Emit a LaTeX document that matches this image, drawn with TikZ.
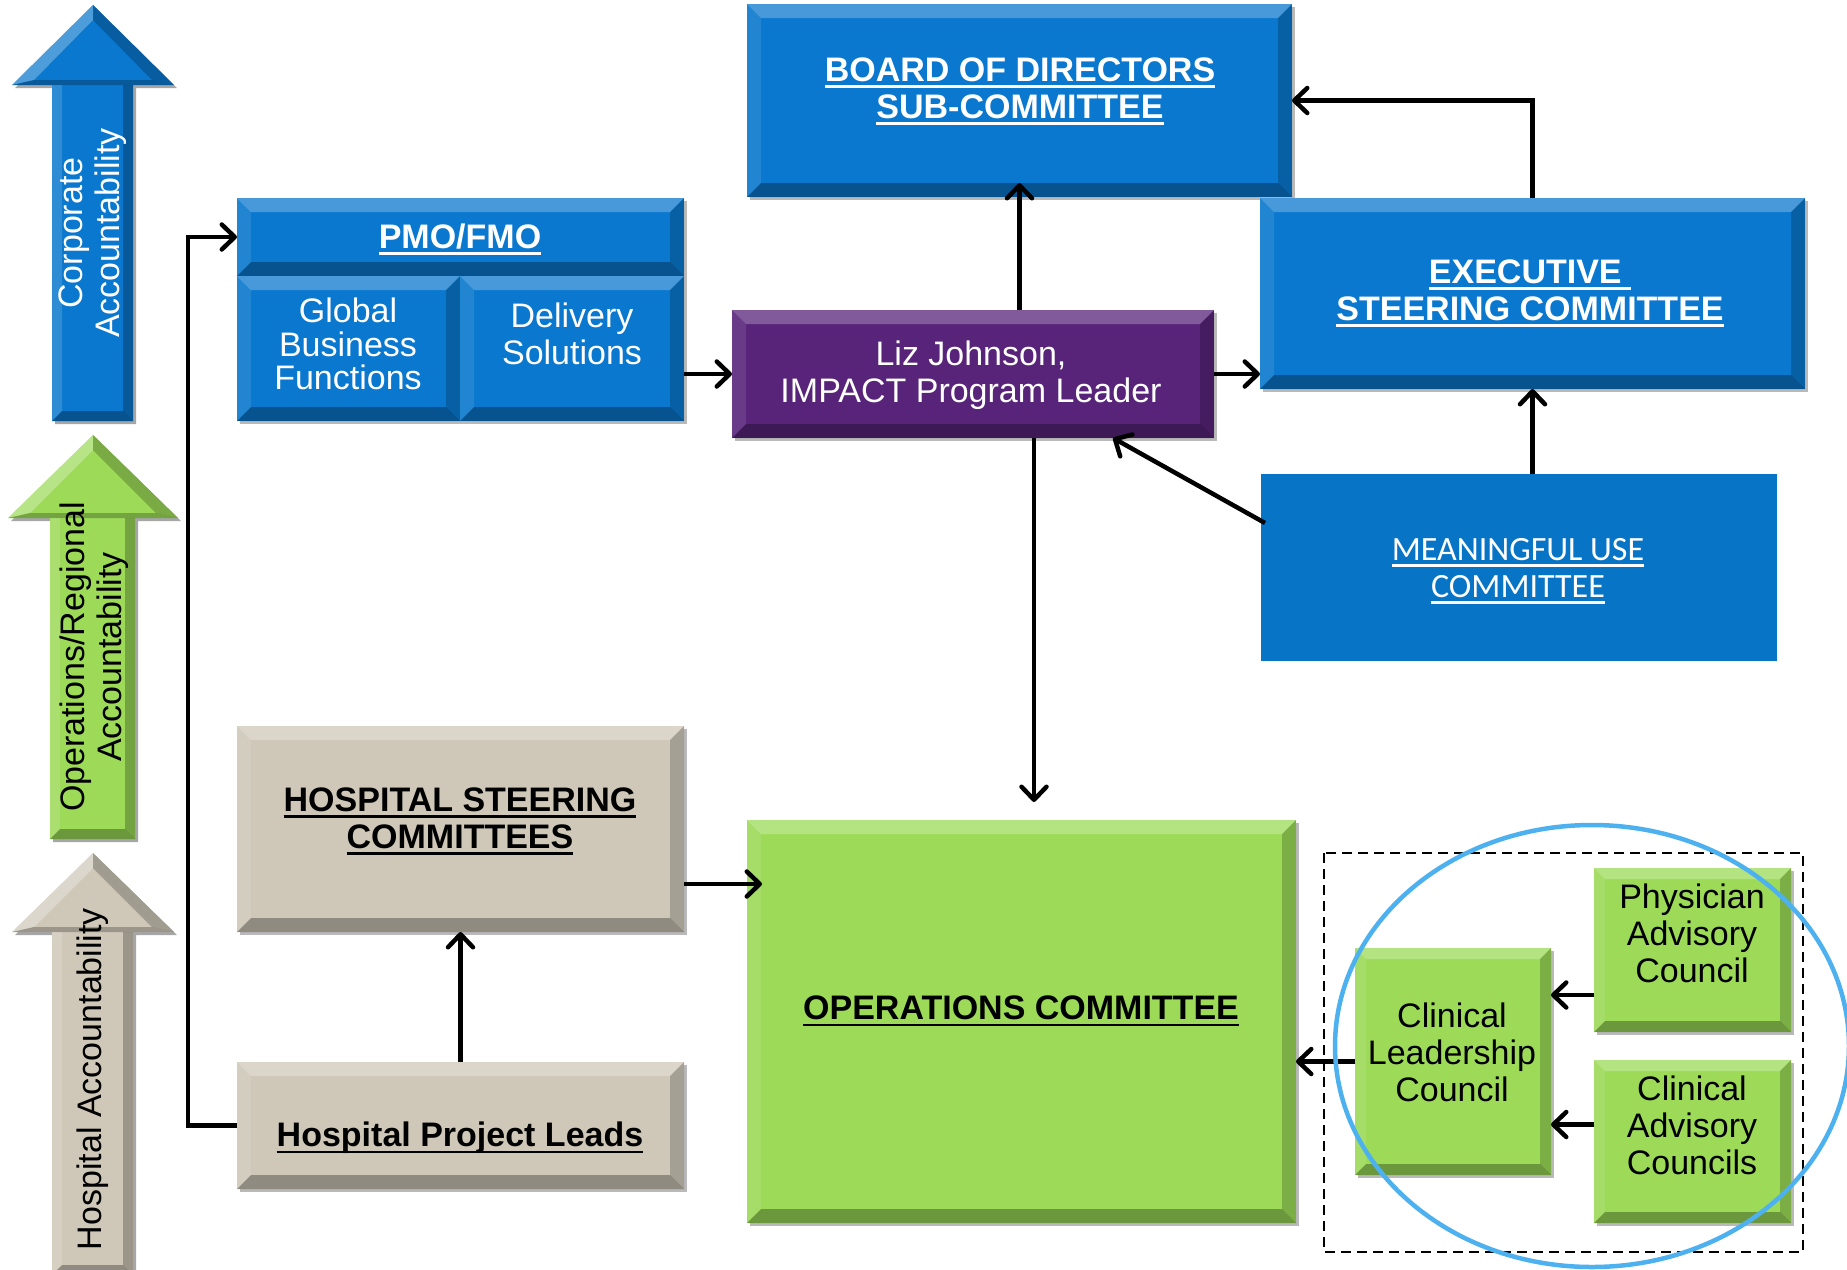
\documentclass[tikz,border=0pt]{standalone}
\usepackage{fontspec}
\setmainfont{Liberation Sans}
\newfontfamily\mufont{Carlito}
\newcommand\myul[1]{\setbox0\hbox{#1}\rlap{\rule[-6.5pt]{\wd0}{2.4pt}}\box0}
\usetikzlibrary{arrows.meta,shadows,calc}
\definecolor{blueF}{HTML}{0A78CE}
\definecolor{purpF}{HTML}{58247A}
\definecolor{greenF}{HTML}{9CDA58}
\definecolor{beigeF}{HTML}{CFC8B9}
\definecolor{muF}{HTML}{0874C6}
\definecolor{circB}{HTML}{4DB1F0}
\newcommand\bigarr[8]{%
 \fill[black,opacity=.35] (#7+3,#4+3) -- (#7+3,#3+3) -- (#5+3,#3+3) -- (96,#2+3) -- (#6+3,#3+3) -- (#8+3,#3+3) -- (#8+3,#4+3) -- cycle;
 \fill[#1] (#7,#4) -- (#7,#3) -- (#5,#3) -- (93,#2) -- (#6,#3) -- (#8,#3) -- (#8,#4) -- cycle;
 \fill[white,opacity=.28] (#5,#3) -- (93,#2) -- (93,#2+15) -- (#5+22,#3-5) -- cycle;
 \fill[black,opacity=.22] (#6,#3) -- (93,#2) -- (93,#2+15) -- (#6-22,#3-5) -- cycle;
 \fill[black,opacity=.25] (#5,#3) -- (#6,#3) -- (#6-22,#3-5) -- (#5+22,#3-5) -- cycle;
 \fill[white,opacity=.15] (#7,#3) -- (#7,#4) -- (#7+10,#4-10) -- (#7+10,#3) -- cycle;
 \fill[black,opacity=.25] (#8,#3) -- (#8,#4) -- (#8-10,#4-10) -- (#8-10,#3) -- cycle;
 \fill[black,opacity=.3] (#7,#4) -- (#8,#4) -- (#8-10,#4-10) -- (#7+10,#4-10) -- cycle;
}
\tikzset{
  bev/.style={path picture={
    \coordinate (bnw) at (path picture bounding box.north west);
    \coordinate (bne) at (path picture bounding box.north east);
    \coordinate (bsw) at (path picture bounding box.south west);
    \coordinate (bse) at (path picture bounding box.south east);
    \fill[white,opacity=.25] (bnw) -- (bne) -- ([shift={(-#1,-#1)}]bne) -- ([shift={(#1,-#1)}]bnw) -- cycle;
    \fill[white,opacity=.1] (bnw) -- ([shift={(#1,-#1)}]bnw) -- ([shift={(#1,#1)}]bsw) -- (bsw) -- cycle;
    \fill[black,opacity=.2] (bne) -- (bse) -- ([shift={(-#1,#1)}]bse) -- ([shift={(-#1,-#1)}]bne) -- cycle;
    \fill[black,opacity=.3] (bsw) -- (bse) -- ([shift={(-#1,#1)}]bse) -- ([shift={(#1,#1)}]bsw) -- cycle;
  }},
  bev/.default=14pt
}
\begin{document}
\begin{tikzpicture}[x=1pt,y=-1pt,
  fnt/.style={font=\fontsize{34}{37}\selectfont},
  box/.style={anchor=north west, inner sep=0pt, outer sep=0pt, draw=none, bev=14pt,
     drop shadow={shadow xshift=2.5pt,shadow yshift=-3pt,opacity=.55}},
  sbox/.style={box, bev=11pt},
  conn/.style={line width=4.5pt, -{Straight Barb[length=13pt,width=25pt,round]}},
  lbl/.style={fnt, align=center, inner sep=0pt},
]
\useasboundingbox (0,0) rectangle (1847,1269);
\fill[white] (0,0) rectangle (1847,1269);

% side arrows
\bigarr{blueF}{5}{85}{421}{12}{174}{52}{133}
\bigarr{greenF}{435}{518}{839}{8}{178}{50}{135}
\bigarr{beigeF}{853}{932}{1275}{12}{174}{52}{133}
\node[lbl, text=white, rotate=90] (corpT) at (93,233) {Corporate\\Accountability};
\node[lbl, rotate=90] (opsRT) at (94,657) {Operations/Regional\\Accountability};
\node[lbl, rotate=90] (hospT) at (93,1079) {Hospital Accountability};

% boxes
\node[box, fill=blueF, minimum width=545pt, minimum height=193pt] (board) at (747,4) {};
\node[box, fill=blueF, minimum width=545pt, minimum height=191pt] (exec) at (1260,198) {};
\node[box, fill=blueF, minimum width=447pt, minimum height=78pt] (pmo) at (237,198) {};
\node[box, fill=blueF, minimum width=223pt, minimum height=145pt] (gbf) at (237,276) {};
\node[box, fill=blueF, minimum width=224pt, minimum height=145pt] (ds) at (460,276) {};
\node[box, fill=purpF, minimum width=482pt, minimum height=128pt] (liz) at (732,310) {};
\node[anchor=north west, inner sep=0pt, outer sep=0pt, fill=muF, minimum width=516pt, minimum height=187pt] (mu) at (1261,474) {};
\node[box, fill=beigeF, minimum width=447pt, minimum height=206pt] (hsc) at (237,726) {};
\node[box, fill=beigeF, minimum width=447pt, minimum height=127pt] (hpl) at (237,1062) {};
\node[box, fill=greenF, minimum width=549pt, minimum height=403pt] (ops) at (747,820) {};
\node[sbox, fill=greenF, minimum width=196pt, minimum height=227pt] (clc) at (1355,948) {};
\node[sbox, fill=greenF, minimum width=197pt, minimum height=164pt] (pac) at (1594,868) {};
\node[sbox, fill=greenF, minimum width=197pt, minimum height=163pt] (cac) at (1594,1060) {};

% texts
\node[lbl, text=white] (boardT) at (1020,91) {\textbf{\myul{BOARD OF DIRECTORS}}\\\textbf{\myul{SUB-COMMITTEE}}};
\node[lbl, text=white] (execT) at (1530,293) {\textbf{\myul{EXECUTIVE\ }}\\\textbf{\myul{STEERING COMMITTEE}}};
\node[lbl, text=white] (pmoT) at (460,239) {\textbf{\myul{PMO/FMO}}};
\node[lbl, text=white, font=\fontsize{34}{33.5}\selectfont] (gbfT) at (348,344) {Global\\Business\\Functions};
\node[lbl, text=white] (dsT) at (572,334) {Delivery\\Solutions};
\node[lbl, text=white] (lizT) at (971,375) {Liz Johnson,\\IMPACT Program Leader};
\node[lbl, text=white, font=\mufont\fontsize{34}{37}\selectfont] (muT) at (1518,571) {\myul{MEANINGFUL USE}\\\myul{COMMITTEE}};
\node[lbl] (hscT) at (460,821) {\textbf{\myul{HOSPITAL STEERING}}\\\textbf{\myul{COMMITTEES}}};
\node[lbl] (hplT) at (460,1138) {\textbf{\myul{Hospital Project Leads}}};
\node[lbl] (opsT) at (1021,1011) {\textbf{\myul{OPERATIONS COMMITTEE}}};
\node[lbl] (clcT) at (1452,1052) {Clinical\\Leadership\\Council};
\node[lbl] (pacT) at (1692,933) {Physician\\Advisory\\Council};
\node[lbl] (cacT) at (1692,1125) {Clinical\\Advisory\\Councils};

% connectors
\draw[conn] (board.south |- liz.north) -- ($(board.south)+(0,-14)$);
\draw[conn] (exec.north) |- (board.east);
\draw[conn] (ds.east |- liz.west) -- (liz.west);
\draw[conn] (liz.east) -- (liz.east -| exec.west);
\draw[conn] (mu.north -| exec.south) -- (exec.south);
\draw[conn] ($(mu.north west)+(4,49)$) -- ($(liz.south)+(140,0)$);
\coordinate (lzs) at ($(liz.south)+(61,0)$);
\draw[conn] (lzs) -- ($(lzs |- ops.north)+(0,-18)$);
\draw[conn] (hpl.west) -- ++(-49,0) coordinate (hplc) |- (pmo.west);
\draw[conn] (hpl.north) -- (hsc.south);
\draw[conn] ($(hsc.east)+(0,55)$) -- ($(hsc.east -| ops.west)+(15,55)$);
\draw[conn] (clc.west) -- (clc.west -| ops.east);
\draw[conn] ($(pac.west)+(0,45)$) -- ($(pac.west -| clc.east)+(0,45)$);
\draw[conn] ($(cac.west)+(0,-17)$) -- ($(cac.west -| clc.east)+(0,-17)$);

% group
\draw[line width=2.4pt, dash pattern=on 10pt off 6pt] (1324,853) rectangle (1803,1252);
\draw[line width=4.5pt, circB] (1592,1046) ellipse [x radius=257, y radius=221];
\end{tikzpicture}
\end{document}
